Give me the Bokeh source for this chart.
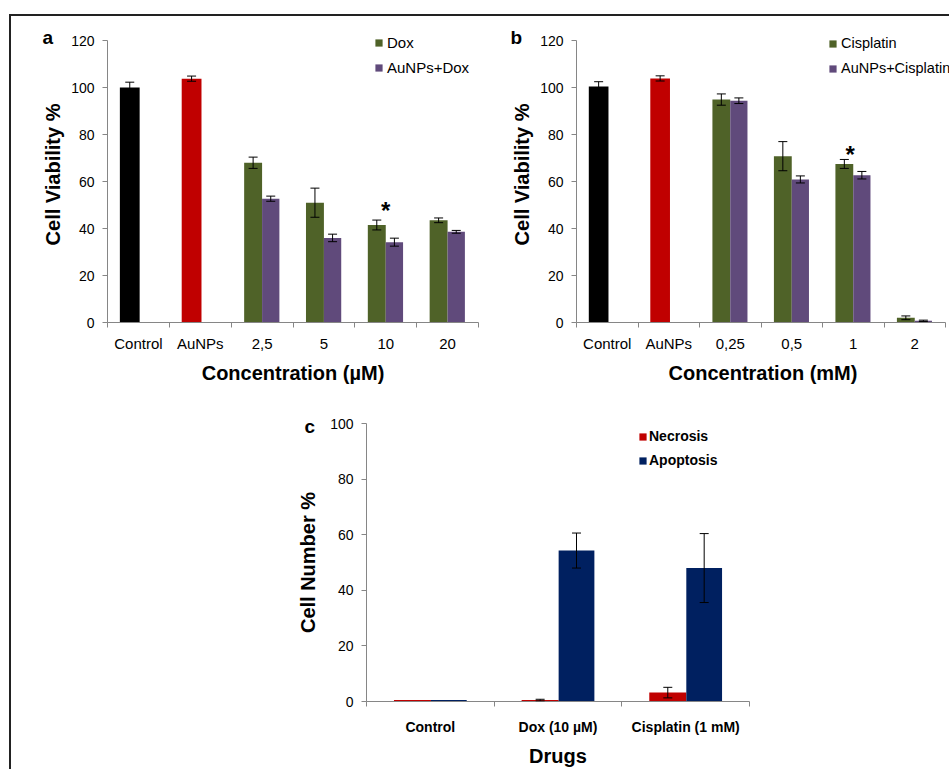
from bokeh.plotting import figure
from bokeh.layouts import column, row, Spacer
from bokeh.models import ColumnDataSource, Whisker, TeeHead, FixedTicker, Legend, LegendItem, Title
from bokeh.embed import file_html
from bokeh.resources import INLINE
from bokeh.core.properties import value

FONT = "Liberation Sans"

# ---------------- data ----------------
# Panel a (Dox)
a_categories = ["Control", "AuNPs", "2,5", "5", "10", "20"]
a_ref_values = [100.0, 103.8]
a_ref_errors = [2.3, 1.1]
a_dox = [68.0, 51.0, 41.5, 43.5]
a_dox_err = [2.4, 6.2, 2.1, 1.0]
a_au_dox = [52.7, 36.0, 34.2, 38.6]
a_au_dox_err = [1.1, 1.6, 1.7, 0.6]
a_star_x = [4.5]
a_star_y = [47.5]

# Panel b (Cisplatin)
b_categories = ["Control", "AuNPs", "0,25", "0,5", "1", "2"]
b_ref_values = [100.5, 103.9]
b_ref_errors = [2.0, 1.1]
b_cis = [94.9, 70.8, 67.5, 2.0]
b_cis_err = [2.4, 6.2, 1.9, 0.8]
b_au_cis = [94.4, 60.9, 62.7, 0.7]
b_au_cis_err = [1.2, 1.5, 1.6, 0.3]
b_star_x = [4.45]
b_star_y = [71.5]

# Panel c (cell death)
c_categories = ["Control", "Dox (10 µM)", "Cisplatin (1 mM)"]
c_necrosis = [0.5, 0.5, 3.2]
c_necrosis_err = [0.0, 0.3, 1.9]
c_apoptosis = [0.5, 54.3, 48.0]
c_apoptosis_err = [0.0, 6.3, 12.4]

yticks_ab = [0, 20, 40, 60, 80, 100, 120]
yticks_c = [0, 20, 40, 60, 80, 100]

REF_COLORS = ["#000000", "#C00000"]
GREEN = "#4F6228"
PURPLE = "#604A7B"
RED = "#C00000"
NAVY = "#002060"
AXIS_GREY = "#868686"


def style_axes(p, n, cats, yticks, xlab, ylab, xbold, tick_x_size, tick_y_size, x_standoff, ylab_standoff):
    p.xgrid.visible = False
    p.ygrid.visible = False
    p.outline_line_color = None
    xa = p.xaxis[0]
    xa.ticker = FixedTicker(ticks=[i + 0.5 for i in range(n)], minor_ticks=list(range(n + 1)))
    xa.major_label_overrides = {i + 0.5: c for i, c in enumerate(cats)}
    xa.bounds = (0, n)
    xa.major_tick_line_color = None
    xa.major_tick_out = 0
    xa.major_tick_in = 0
    xa.minor_tick_line_color = AXIS_GREY
    xa.minor_tick_out = 5
    xa.minor_tick_in = 0
    xa.axis_line_color = AXIS_GREY
    xa.major_label_text_font = FONT
    xa.major_label_text_font_size = tick_x_size
    xa.major_label_text_font_style = "bold" if xbold else "normal"
    xa.major_label_text_color = "#000000"
    xa.major_label_standoff = x_standoff
    xa.axis_label = xlab
    xa.axis_label_text_font = FONT
    xa.axis_label_text_font_size = "20px"
    xa.axis_label_text_font_style = "bold"
    xa.axis_label_text_color = "#000000"
    xa.axis_label_standoff = 7

    ya = p.yaxis[0]
    ya.ticker = FixedTicker(ticks=yticks)
    ya.bounds = (yticks[0], yticks[-1])
    ya.minor_tick_line_color = None
    ya.major_tick_line_color = AXIS_GREY
    ya.major_tick_out = 5
    ya.major_tick_in = 0
    ya.axis_line_color = AXIS_GREY
    ya.major_label_text_font = FONT
    ya.major_label_text_font_size = tick_y_size
    ya.major_label_text_color = "#000000"
    ya.major_label_standoff = 8
    ya.axis_label = ylab
    ya.axis_label_text_font = FONT
    ya.axis_label_text_font_size = "20px"
    ya.axis_label_text_font_style = "bold"
    ya.axis_label_text_color = "#000000"
    ya.axis_label_standoff = ylab_standoff


def add_errors(p, xs, vals, errs):
    keep = [(x, v, e) for x, v, e in zip(xs, vals, errs) if e > 0]
    src = ColumnDataSource(dict(
        x=[k[0] for k in keep],
        upper=[k[1] + k[2] for k in keep],
        lower=[k[1] - k[2] for k in keep],
    ))
    w = Whisker(source=src, base="x", upper="upper", lower="lower",
                line_color="black", line_width=1,
                upper_head=TeeHead(size=9, line_color="black", line_width=1),
                lower_head=TeeHead(size=9, line_color="black", line_width=1),
                level="annotation")
    p.add_layout(w)


def panel_letter(p, letter, offset, standoff):
    t = Title(text=letter, align="left", offset=offset, standoff=standoff,
              text_font=FONT, text_font_size="19px", text_font_style="bold",
              text_color="black", vertical_align="bottom")
    p.add_layout(t, "above")


def viability_panel(cats, ref_vals, ref_errs, s1, s1e, s2, s2e, names, xlab, letter,
                    star_x, star_y, width, height, bl, br, bt, bb, leg_loc, leg_font,
                    x_end, letter_offset):
    n = len(cats)
    # the frame reaches a little above 120 so that the legend is not clipped
    p = figure(width=width, height=height, x_range=(0, x_end), y_range=(0, 126),
               output_backend="svg", toolbar_location=None,
               min_border_left=bl, min_border_right=br, min_border_top=bt, min_border_bottom=bb,
               background_fill_color="white", border_fill_color="white")
    style_axes(p, n, cats, yticks_ab, xlab, "Cell Viability %", False, "15px", "14px", 7, 4)

    w = 0.30
    ref_x = [i + 0.5 - 0.14 for i in range(len(ref_vals))]
    p.vbar(x=ref_x, top=ref_vals, width=0.32, bottom=0, fill_color=REF_COLORS, line_color=None)
    add_errors(p, ref_x, ref_vals, ref_errs)

    start = len(ref_vals)
    x1 = [start + i + 0.5 - 0.145 for i in range(len(s1))]
    x2 = [start + i + 0.5 + 0.14 for i in range(len(s2))]
    r1 = p.vbar(x=x1, top=s1, width=w - 0.01, bottom=0, fill_color=GREEN, line_color=None)
    r2 = p.vbar(x=x2, top=s2, width=w - 0.02, bottom=0, fill_color=PURPLE, line_color=None)
    add_errors(p, x1, s1, s1e)
    add_errors(p, x2, s2, s2e)

    p.text(x=star_x, y=star_y, text=["*"], text_font=value(FONT), text_font_size="24px",
           text_font_style="bold", text_align="center", text_baseline="alphabetic", text_color="black")

    leg = Legend(items=[LegendItem(label=names[0], renderers=[r1]),
                        LegendItem(label=names[1], renderers=[r2])],
                 location=leg_loc, border_line_color=None, background_fill_alpha=0,
                 padding=0, margin=0, spacing=5, glyph_width=9, glyph_height=9,
                 label_standoff=4, label_height=20, label_text_font=FONT,
                 label_text_font_size=leg_font, label_text_color="black")
    p.add_layout(leg)
    panel_letter(p, letter, letter_offset, -42)
    return p


pa = viability_panel(a_categories, a_ref_values, a_ref_errors, a_dox, a_dox_err, a_au_dox, a_au_dox_err,
                     ["Dox", "AuNPs+Dox"], "Concentration (µM)", "a", a_star_x, a_star_y,
                     480, 380, 96, 13, 10, 73, (267, 245), "15px", 6, -65)
# panel b frame reaches the page edge so the clipped legend stays readable
pb = viability_panel(b_categories, b_ref_values, b_ref_errors, b_cis, b_cis_err, b_au_cis, b_au_cis_err,
                     ["Cisplatin", "AuNPs+Cisplatin"], "Concentration (mM)", "b", b_star_x, b_star_y,
                     458, 380, 85, 0, 9, 74, (252, 244), "14.5px", 6 * 373 / 369, -66)

# Panel c
pc = figure(width=509, height=373, x_range=(0, 3), y_range=(0, 100),
            output_backend="svg", toolbar_location=None,
            min_border_left=86, min_border_right=40, min_border_top=27, min_border_bottom=62,
            background_fill_color="white", border_fill_color="white")
style_axes(pc, 3, c_categories, yticks_c, "Drugs", "Cell Number %", True, "14px", "14px", 12, 8)
cx_n = [i + 0.5 - 0.14 for i in range(3)]
cx_a = [i + 0.5 + 0.145 for i in range(3)]
rn = pc.vbar(x=cx_n, top=c_necrosis, width=0.29, bottom=0, fill_color=RED, line_color=None)
ra = pc.vbar(x=cx_a, top=c_apoptosis, width=0.28, bottom=0, fill_color=NAVY, line_color=None)
add_errors(pc, cx_n, c_necrosis, c_necrosis_err)
add_errors(pc, cx_a, c_apoptosis, c_apoptosis_err)
legc = Legend(items=[LegendItem(label="Necrosis", renderers=[rn]),
                     LegendItem(label="Apoptosis", renderers=[ra])],
              location=(272, 231), border_line_color=None, background_fill_alpha=0,
              padding=0, margin=0, spacing=4, glyph_width=9, glyph_height=9,
              label_standoff=2, label_height=20, label_text_font=FONT,
              label_text_font_size="14px", label_text_font_style="bold", label_text_color="black")
pc.add_layout(legc)
panel_letter(pc, "c", -62, -26)

layout = column(
    row(pa, pb),
    row(Spacer(width=269, height=373), pc),
    styles={"border-left": "2px solid #222222", "border-top": "2px solid #222222",
            "margin-left": "9px", "margin-top": "14px"},
)

open("out.html", "w").write(file_html(layout, INLINE))
